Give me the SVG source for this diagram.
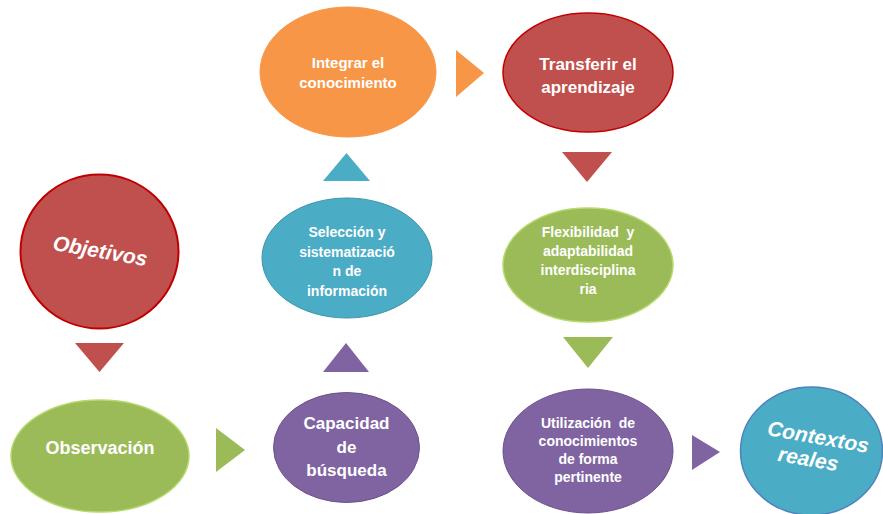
<svg xmlns="http://www.w3.org/2000/svg" width="883" height="514" viewBox="0 0 883 514">
<style>
text{font-family:"Liberation Sans","DejaVu Sans",sans-serif;font-weight:bold;fill:#ffffff;text-anchor:middle}
.s14{font-size:14px}.s15{font-size:15px}.s17{font-size:17px}.s18{font-size:18px}
.it{font-style:italic;font-size:21px;font-weight:bold}
.red{fill:#c0504d}.org{fill:#f79646}.blu{fill:#4bacc6}.grn{fill:#9bbb59}.pur{fill:#8064a2}
</style>
<rect width="883" height="514" fill="#ffffff"/>
<g id="connectors">
<polygon class="red" points="75,343 124,343 99.5,372"/>
<polygon class="grn" points="216,428 216,472 245,450"/>
<polygon class="pur" points="323,372 369,372 346,343"/>
<polygon class="blu" points="323,181 370,181 346.5,153"/>
<polygon class="org" points="456,50 456,97 484,73"/>
<polygon class="red" points="562,152 612,152 587,182"/>
<polygon class="grn" points="563,337 613,337 588,368"/>
<polygon class="pur" points="692,435 692,470 720,452"/>
</g>
<g id="objetivos">
<ellipse cx="99.5" cy="251.5" rx="79" ry="77" fill="#c0504d" stroke="#c00000" stroke-width="2"/>
<text class="it" transform="translate(99,258) rotate(10)">Objetivos</text>
</g>
<g id="observacion">
<ellipse cx="100" cy="456" rx="89" ry="56" fill="#9bbb59" stroke="#b5d96a" stroke-width="1.5"/>
<text class="s18" x="100" y="454">Observación</text>
</g>
<g id="capacidad">
<ellipse cx="346.5" cy="447.5" rx="73" ry="55" fill="#8064a2" stroke="#6c5289" stroke-width="1"/>
<text class="s17" x="346.5" y="429">Capacidad</text>
<text class="s17" x="346.5" y="453">de</text>
<text class="s17" x="346.5" y="476">búsqueda</text>
</g>
<g id="seleccion">
<ellipse cx="347" cy="258" rx="85" ry="60" fill="#4bacc6" stroke="#3d94ab" stroke-width="1"/>
<text class="s14" x="347" y="237">Selección y</text>
<text class="s14" x="347" y="257">sistematizació</text>
<text class="s14" x="347" y="276">n de</text>
<text class="s14" x="347" y="296">información</text>
</g>
<g id="integrar">
<ellipse cx="348" cy="72" rx="88" ry="65" fill="#f79646" stroke="#f79646" stroke-width="1"/>
<text class="s15" x="348" y="68">Integrar el</text>
<text class="s15" x="348" y="88">conocimiento</text>
</g>
<g id="transferir">
<ellipse cx="588" cy="72.5" rx="85" ry="59.5" fill="#c0504d" stroke="#c00000" stroke-width="1.5"/>
<text class="s17" x="588" y="70">Transferir el</text>
<text class="s17" x="588" y="93">aprendizaje</text>
</g>
<g id="flexibilidad">
<ellipse cx="588" cy="265" rx="85" ry="57" fill="#9bbb59" stroke="#b5d96a" stroke-width="1.5"/>
<text class="s14" x="588" y="237" xml:space="preserve">Flexibilidad  y</text>
<text class="s14" x="588" y="256">adaptabilidad</text>
<text class="s14" x="588" y="275">interdisciplina</text>
<text class="s14" x="588" y="294">ria</text>
</g>
<g id="utilizacion">
<ellipse cx="588" cy="451" rx="85" ry="62" fill="#8064a2" stroke="#6c5289" stroke-width="1"/>
<text class="s14" x="588" y="428" xml:space="preserve">Utilización  de</text>
<text class="s14" x="588" y="446">conocimientos</text>
<text class="s14" x="588" y="464">de forma</text>
<text class="s14" x="588" y="482">pertinente</text>
</g>
<g id="contextos">
<ellipse cx="811.5" cy="451" rx="71" ry="64" fill="#4bacc6" stroke="#4f81bd" stroke-width="1.5"/>
<text class="it" transform="translate(817,444) rotate(10)">Contextos</text>
<text class="it" transform="translate(807,466) rotate(10)">reales</text>
</g>
</svg>
